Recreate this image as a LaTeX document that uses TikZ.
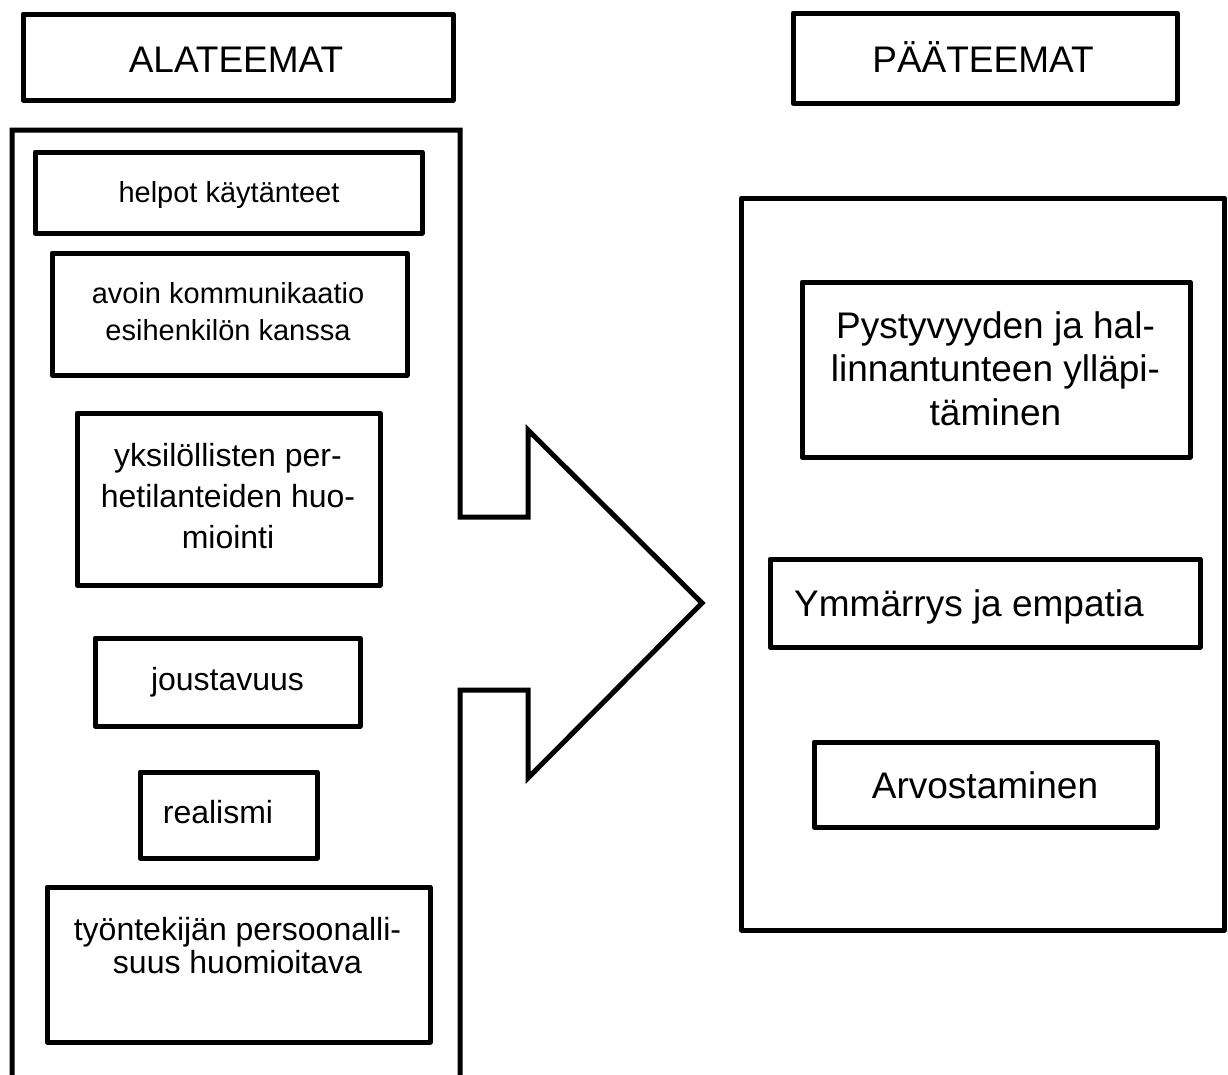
\documentclass[tikz,border=0pt]{standalone}
\usepackage{fontspec}
\setmainfont{Liberation Sans}
\begin{document}
\begin{tikzpicture}[x=1pt,y=-1pt,
  box/.style={draw=black, line width=5pt, line join=round, inner sep=0pt, fill=none},
  outline/.style={draw=black, line width=5pt, line join=miter},
  big/.style={font=\fontsize{37}{43.5}\selectfont, anchor=base, align=center, inner sep=0pt},
  mid/.style={font=\fontsize{32}{40}\selectfont, anchor=base, align=center, inner sep=0pt},
  small/.style={font=\fontsize{29}{37}\selectfont, anchor=base, align=center, inner sep=0pt}]
\useasboundingbox (0,0) rectangle (1228,1074);
\clip (0,0) rectangle (1228,1074);
\fill[white] (0,0) rectangle (1228,1074);

% left container merged with the big arrow
\draw[outline] (12,1090) -- (12,130) -- (460,130) -- (460,517) -- (528,517) -- (528,430)
  -- (702,603) -- (528,778) -- (528,690) -- (460,690) -- (460,1090);

% headers
\node[box, minimum width=430pt, minimum height=86pt] (ala) at (238,57) {};
\node[big] (alat) at (236,72) {ALATEEMAT};
\node[box, minimum width=384pt, minimum height=90pt] (paa) at (985,58) {};
\node[big] (paat) at (983,72) {PÄÄTEEMAT};

% left boxes (multi-line text: anchor at the baseline of the last line)
\node[box, minimum width=387pt, minimum height=81pt] (helpot) at (228.5,192.5) {};
\node[small] (helpott) at (229,202) {helpot käytänteet};

\node[box, minimum width=355pt, minimum height=122pt] (avoin) at (229.5,314) {};
\node[small] (avoint) at (228,340) {avoin kommunikaatio\\esihenkilön kanssa};

\node[box, minimum width=303pt, minimum height=172pt] (yksi) at (228.5,499) {};
\node[mid, font=\fontsize{32}{41}\selectfont] (yksit) at (228,548) {yksilöllisten per-\\hetilanteiden huo-\\miointi};

\node[box, minimum width=265pt, minimum height=88pt] (jous) at (227.5,682) {};
\node[mid] (joust) at (227.5,690) {joustavuus};

\node[box, minimum width=177pt, minimum height=86pt] (real) at (228.5,815) {};
\node[mid] (realt) at (218,823) {realismi};

\node[box, minimum width=383pt, minimum height=155pt] (tyon) at (238.5,964.5) {};
\node[mid, font=\fontsize{32}{33}\selectfont] (tyont) at (237.5,973) {työntekijän persoonalli-\\suus huomioitava};

% right container
\node[box, minimum width=483pt, minimum height=732pt] (right) at (983,564) {};

\node[box, minimum width=388pt, minimum height=175pt] (pysty) at (996,369.5) {};
\node[big] (pystyt) at (995.5,425) {Pystyvyyden ja hal-\\linnantunteen ylläpi-\\täminen};

\node[box, minimum width=430pt, minimum height=88pt] (ymm) at (985,603) {};
\node[big] (ymmt) at (969,616) {Ymmärrys ja empatia};

\node[box, minimum width=343pt, minimum height=85pt] (arvo) at (985.5,784.5) {};
\node[big] (arvot) at (985,798) {Arvostaminen};
\end{tikzpicture}
\end{document}
